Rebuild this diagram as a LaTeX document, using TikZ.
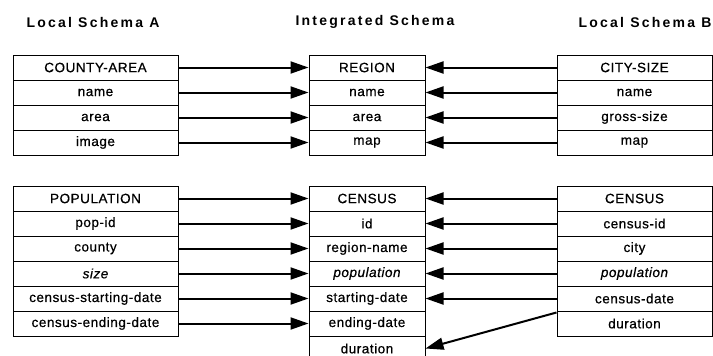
\documentclass[tikz,border=0pt]{standalone}
\usepackage{fontspec}
\setmainfont{Liberation Sans}
\newfontfamily\headfont{Liberation Sans Bold}[LetterSpace=16]
\newfontfamily\fieldfont{Liberation Sans}[LetterSpace=4, FakeBold=0.6]
\usetikzlibrary{arrows.meta}
\tikzset{
  field/.style={draw, line width=1pt, inner sep=0pt, minimum height=25pt,
    font=\fieldfont\fontsize{13.5}{15}\selectfont},
  link/.style={line width=2pt, -{Triangle[length=18pt,width=12pt]}},
  head/.style={font=\headfont\fontsize{14}{16}\selectfont}
}

\begin{document}
\begin{tikzpicture}[x=1pt, y=1pt]
  \useasboundingbox (0,0) rectangle (713,-356);
  % headings
  \node[head] (hA) at (93,-22) {Local Schema A};
  \node[head] (hI) at (375,-22) {Integrated Schema};
  \node[head] (hB) at (645,-22) {Local Schema B};
  % upper tables
  \foreach \txt [count=\i from 0] in {COUNTY-AREA, name, area, image}
    \node[field, minimum width=165pt] (cnty\i) at (95.5,-67.5-25*\i) {\txt};
  \foreach \txt [count=\i from 0] in {REGION, name, area, map}
    \node[field, minimum width=116pt] (reg\i) at (367,-67.5-25*\i) {\txt};
  \foreach \txt [count=\i from 0] in {CITY-SIZE, name, gross-size, map}
    \node[field, minimum width=155pt] (city\i) at (634.5,-67.5-25*\i) {\txt};
  % lower tables
  \foreach \txt [count=\i from 0] in {POPULATION, pop-id, county, {\itshape size},
      census-starting-date, census-ending-date}
    \node[field, minimum width=165pt] (pop\i) at (95.5,-198.5-25*\i) {\txt};
  \foreach \txt [count=\i from 0] in {CENSUS, id, region-name, {\itshape population},
      starting-date, ending-date, duration}
    \node[field, minimum width=116pt] (cen\i) at (367,-198.5-25*\i) {\txt};
  \foreach \txt [count=\i from 0] in {CENSUS, census-id, city, {\itshape population},
      census-date, duration}
    \node[field, minimum width=155pt] (bcen\i) at (634.5,-198.5-25*\i) {\txt};
  % mappings
  \foreach \i in {0,...,3} {
    \draw[link] (cnty\i.east) -- (reg\i.west);
    \draw[link] (city\i.west) -- (reg\i.east);
  }
  \foreach \i in {0,...,5}
    \draw[link] (pop\i.east) -- (cen\i.west);
  \foreach \i in {0,...,4}
    \draw[link] (bcen\i.west) -- (cen\i.east);
  \draw[link] ([yshift=-2pt]bcen5.north west) -- (cen6.east);
\end{tikzpicture}
\end{document}
